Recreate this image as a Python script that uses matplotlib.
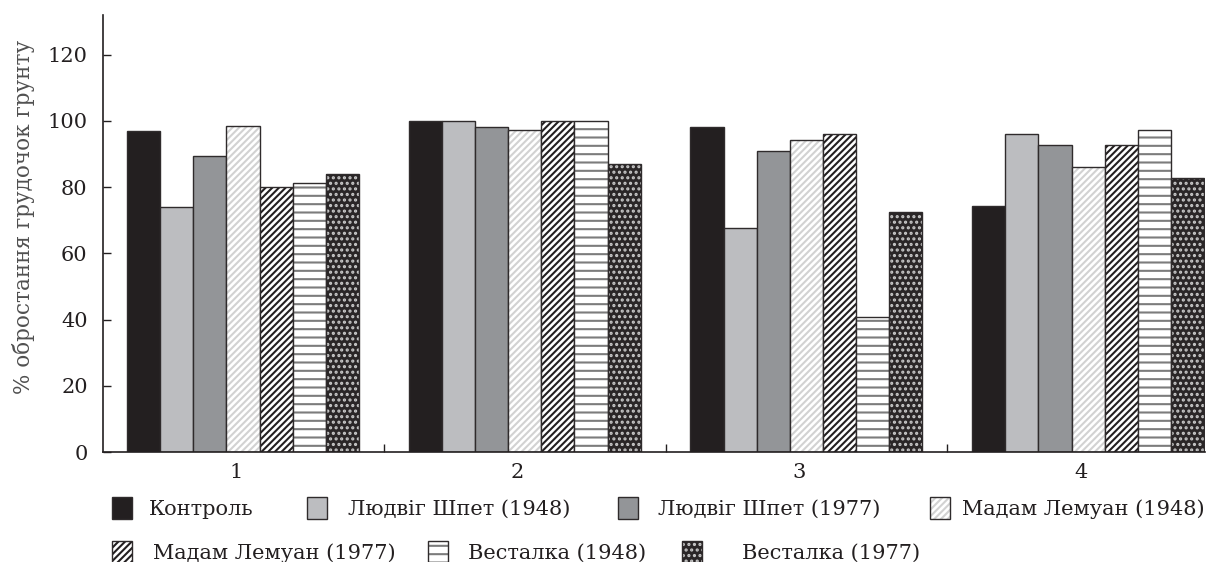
import matplotlib.pyplot as plt
import numpy as np
from matplotlib.patches import Patch

plt.rcParams['font.family'] = ['DejaVu Serif']
plt.rcParams['hatch.linewidth'] = 1.5

# data
groups = ['1', '2', '3', '4']
series = ['Контроль', 'Людвіг Шпет (1948)', 'Людвіг Шпет (1977)', 'Мадам Лемуан (1948)',
          'Мадам Лемуан (1977)', 'Весталка (1948)', 'Весталка (1977)']
control = [97, 100, 98.3, 74.2]
shpet_1948 = [74, 100, 67.8, 96]
shpet_1977 = [89.5, 98.3, 91, 92.7]
lemoine_1948 = [98.4, 97.4, 94.1, 86.2]
lemoine_1977 = [80, 100, 96, 92.7]
vestalka_1948 = [81.4, 100, 40.8, 97.4]
vestalka_1977 = [84, 87, 72.6, 82.9]
values = [control, shpet_1948, shpet_1977, lemoine_1948, lemoine_1977, vestalka_1948, vestalka_1977]

# styles
faces = ['#231f20', '#bcbdc0', '#939598', 'white', 'white', 'white', '#2a2627']
hatches = [None, None, None, '/////', '/////', '--', '...']
hatch_cols = [None, None, None, '#d2d2d2', '#231f20', '#7c7c7c', '#c8c8c8']
edge = '#2f2b2c'
ink = '#231f20'
fs = 15

W, H = 1207, 562
fig = plt.figure(figsize=(W / 100, H / 100), dpi=100)
ax = fig.add_axes([103 / W, 1 - 452 / H, (1205 - 103) / W, (452 - 15) / H])

x = np.arange(1, len(groups) + 1)
bw = 0.1176
for i, vals in enumerate(values):
    pos = x + (i - 3) * bw
    if hatches[i]:
        ax.bar(pos, vals, bw, color=faces[i], edgecolor=hatch_cols[i], hatch=hatches[i], linewidth=0)
        ax.bar(pos, vals, bw, fill=False, edgecolor=edge, linewidth=1.0)
    else:
        ax.bar(pos, vals, bw, color=faces[i], edgecolor=edge, linewidth=1.0)

ax.set_xlim(0.503, 4.415)
ax.set_ylim(0, 132)
ax.set_yticks(range(0, 121, 20))
ax.set_xticks(x - 0.025)
ax.set_xticklabels(groups)
ax.set_xticks([1.5, 2.5, 3.5], minor=True)
ax.tick_params(axis='x', which='major', length=0, pad=8, labelsize=fs, labelcolor=ink)
ax.tick_params(axis='x', which='minor', direction='in', length=6, width=1, color=ink)
ax.tick_params(axis='y', direction='in', length=6, width=1, color=ink, pad=11,
               labelsize=fs, labelcolor=ink)
for s in ['top', 'right']:
    ax.spines[s].set_visible(False)
for s in ['left', 'bottom']:
    ax.spines[s].set_color(ink)
    ax.spines[s].set_linewidth(1.2)

ax.set_ylabel('% обростання грудочок грунту', fontsize=15.5, color='#505050')
ax.yaxis.set_label_coords(-0.062, 0.538)

# legend, one entry at a time to keep the original spacing
hx = [112, 307, 618, 930, 112, 428, 682]
tx = [149, 348, 658, 962, 153, 468, 742]
ry = [508, 508, 508, 508, 552, 552, 552]
fpx = fs * 100 / 72
for i, name in enumerate(series):
    if hatches[i]:
        h = (Patch(facecolor=faces[i], edgecolor=hatch_cols[i], hatch=hatches[i], linewidth=0),
             Patch(fill=False, edgecolor=edge, linewidth=1.0))
    else:
        h = Patch(facecolor=faces[i], edgecolor=edge, linewidth=1.0)
    fig.legend(handles=[h], labels=[name], loc='center left',
               bbox_to_anchor=(hx[i] / W, 1 - ry[i] / H), frameon=False,
               borderpad=0, borderaxespad=0, handlelength=20 / fpx, handleheight=1.2,
               handletextpad=(tx[i] - hx[i] - 20) / fpx, fontsize=fs, labelcolor=ink)

fig.savefig('out.png', dpi=100)
